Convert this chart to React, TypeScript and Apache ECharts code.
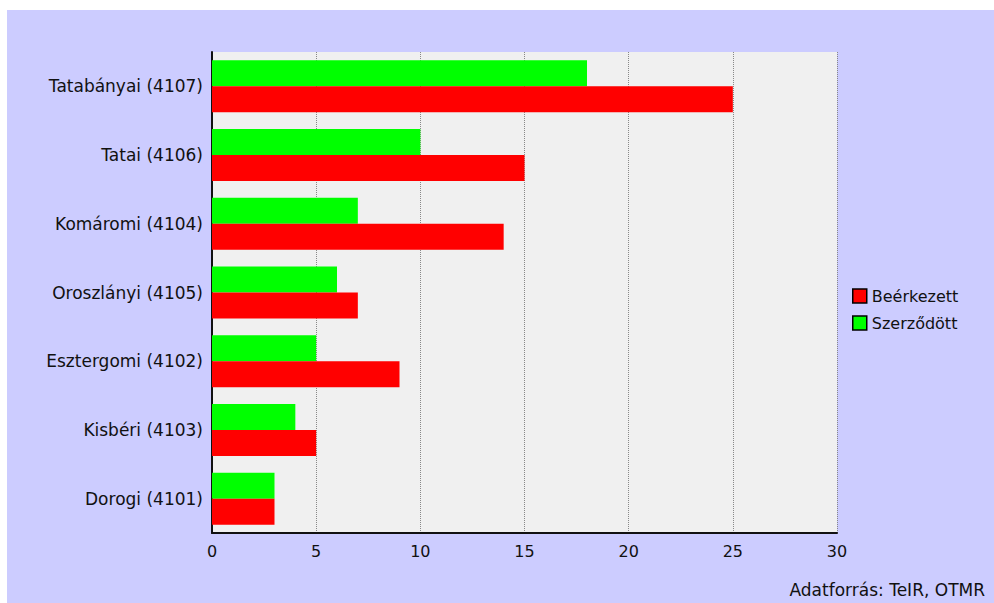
import React, { useEffect, useRef } from "react";
import * as echarts from "echarts";

const categories = [
  "Tatabányai (4107)",
  "Tatai (4106)",
  "Komáromi (4104)",
  "Oroszlányi (4105)",
  "Esztergomi (4102)",
  "Kisbéri (4103)",
  "Dorogi (4101)",
];
const beerkezett = [25, 15, 14, 7, 9, 5, 3];
const szerzodott = [18, 10, 7, 6, 5, 4, 3];
const xTicks = { min: 0, max: 30, interval: 5 };
const sourceText = "Adatforrás: TeIR, OTMR";

const FONT = "DejaVu Sans";

export default function App() {
  const ref = useRef<HTMLDivElement>(null);
  useEffect(() => {
    if (!ref.current) return;
    const chart = echarts.init(ref.current, undefined, { renderer: "svg" });
    chart.setOption({
      animation: false,
      backgroundColor: "#ccccff",
      textStyle: { fontFamily: FONT },
      grid: {
        left: 205,
        top: 42,
        right: 157,
        bottom: 70,
        show: true,
        backgroundColor: "#f0f0f0",
        borderWidth: 0,
      },
      legend: {
        data: ["Beérkezett", "Szerződött"],
        orient: "vertical",
        left: 840,
        top: 273,
        itemWidth: 14,
        itemHeight: 14,
        itemGap: 11,
        icon: "rect",
        itemStyle: { borderColor: "#000", borderWidth: 1.5 },
        textStyle: { fontFamily: FONT, fontSize: 16, color: "#111" },
      },
      xAxis: {
        type: "value",
        min: xTicks.min,
        max: xTicks.max,
        interval: xTicks.interval,
        axisLine: { show: true, lineStyle: { color: "#111", width: 2 } },
        axisTick: { show: false },
        axisLabel: { fontFamily: FONT, fontSize: 16, color: "#111", margin: 10 },
        splitLine: { show: true, lineStyle: { color: "#888", type: "dotted", width: 1 } },
      },
      yAxis: {
        type: "category",
        data: categories,
        inverse: true,
        axisLine: { show: true, lineStyle: { color: "#111", width: 2 } },
        axisTick: { show: false },
        axisLabel: { fontFamily: FONT, fontSize: 17, color: "#111", margin: 9 },
        splitLine: { show: false },
      },
      series: [
        {
          name: "Szerződött",
          type: "bar",
          data: szerzodott,
          barWidth: 26,
          barGap: "0%",
          itemStyle: { color: "#00ff00" },
        },
        {
          name: "Beérkezett",
          type: "bar",
          data: beerkezett,
          barWidth: 26,
          barGap: "0%",
          itemStyle: { color: "#ff0000" },
        },
      ],
      graphic: [
        {
          type: "text",
          right: 9,
          bottom: 5,
          style: { text: sourceText, font: `17px "${FONT}"`, fill: "#111" },
        },
      ],
    });
    return () => chart.dispose();
  }, []);
  return (
    <div
      ref={ref}
      style={{ position: "fixed", left: 7, top: 10, width: 987, height: 593 }}
    />
  );
}
